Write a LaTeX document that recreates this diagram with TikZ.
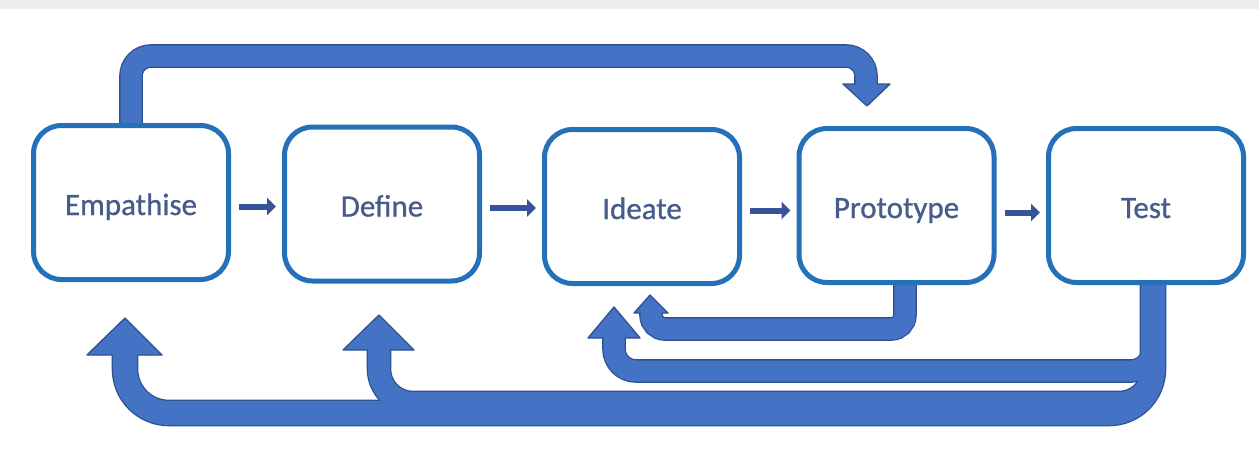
\documentclass[tikz,border=0pt]{standalone}
\usepackage{fontspec}
\setmainfont{Carlito}
\newfontfamily\stagefont{Carlito}[FakeBold=0.8]
\usetikzlibrary{calc,arrows.meta,backgrounds}
\definecolor{boxline}{HTML}{2471B9}
\definecolor{loopfill}{HTML}{4472C4}
\definecolor{loopedge}{HTML}{2F528F}
\definecolor{stepline}{HTML}{35549A}
\definecolor{labeltext}{HTML}{475C88}
\begin{document}
\begin{tikzpicture}[x=1pt,y=-1pt,
  stage/.style={draw=boxline, line width=5pt, rounded corners=28pt, fill=white,
    minimum width=195pt, minimum height=154pt, inner sep=0pt,
    text height=27pt, text depth=2pt,
    text=labeltext, font=\stagefont\fontsize{31}{36}\selectfont},
  flow/.style={draw=stepline, line width=6pt, -{Triangle[length=9pt,width=17pt]}},
  bandedge/.style={draw=loopedge, line width=#1},
  bandfill/.style={draw=loopfill, line width=#1},
  loophead/.style={fill=loopfill, draw=loopedge, line width=1.3pt, line join=round}
]
\useasboundingbox (0,0) rectangle (1259,455);

% the five stages
\node[stage] (emp) at (131,202.5) {Empathise};
\node[stage] (def) at (382,204)   {Define};
\node[stage] (ide) at (642,206.5) {Ideate};
\node[stage] (pro) at (896.5,205.5) {Prototype};
\node[stage] (tst) at (1146,205.5) {Test};

% forward steps
\draw[flow] ([shift={(8pt,-4pt)}]emp.east) -- ([shift={(-6pt,-4pt)}]emp.east -| def.west);
\draw[flow] ([shift={(8pt,-4pt)}]def.east) -- ([shift={(-6pt,-4pt)}]def.east -| ide.west);
\draw[flow] ([shift={(8pt,-4pt)}]ide.east) -- ([shift={(-6pt,-4pt)}]ide.east -| pro.west);
\draw[flow] ([shift={(8pt,-7pt)}]pro.east) -- ([shift={(-6pt,-7pt)}]pro.east -| tst.west);

\begin{scope}[on background layer]
  \fill[white] (0,0) rectangle (1259,455);
  \fill[black!7] (0,0) rectangle (1259,9);

  % ends of the feedback loops
  \coordinate (topEnd) at (866,86);
  \coordinate (proEnd) at (651,311);
  \coordinate (ideEnd) at (614,336);
  \coordinate (defEnd) at (379,348);
  \coordinate (empEnd) at (125,353);

  % outlines of the loop bands
  \draw[bandedge=23.6pt, rounded corners=20pt] ([yshift=-8pt]emp.north) |- (866,56) -- (topEnd);
  \draw[bandedge=26.6pt, rounded corners=44pt] ([shift={(7pt,8pt)}]tst.south) |- (125,413) -- (empEnd);
  \draw[bandedge=24.6pt, rounded corners=34pt] ([shift={(7pt,8pt)}]tst.south) |- (379,403) -- (defEnd);
  \draw[bandedge=23.6pt, rounded corners=22pt] ([shift={(7pt,8pt)}]tst.south) |- (614,371) -- (ideEnd);
  \draw[bandedge=23.6pt, rounded corners=14pt] ([shift={(8.5pt,8pt)}]pro.south) |- (651,329) -- (proEnd);

  % arrow heads
  \filldraw[loophead] (843,84) -- (890,84) -- (867,106) -- cycle;
  \filldraw[loophead] (87,355) -- (162,355) -- (125,318) -- cycle;
  \filldraw[loophead] (343,350) -- (414,350) -- (379,315) -- cycle;
  \filldraw[loophead] (588,338) -- (640,338) -- (614,307) -- cycle;
  \filldraw[loophead] (634,313) -- (668,313) -- (650,295) -- cycle;

  % band fills
  \draw[bandfill=21pt, rounded corners=20pt] ([yshift=-8pt]emp.north) |- (866,56) -- (topEnd);
  \draw[bandfill=24pt, rounded corners=44pt] ([shift={(7pt,8pt)}]tst.south) |- (125,413) -- (empEnd);
  \draw[bandfill=22pt, rounded corners=34pt] ([shift={(7pt,8pt)}]tst.south) |- (379,403) -- (defEnd);
  \draw[bandfill=21pt, rounded corners=22pt] ([shift={(7pt,8pt)}]tst.south) |- (614,371) -- (ideEnd);
  \draw[bandfill=21pt, rounded corners=14pt] ([shift={(8.5pt,8pt)}]pro.south) |- (651,329) -- (proEnd);
\end{scope}
\end{tikzpicture}
\end{document}
